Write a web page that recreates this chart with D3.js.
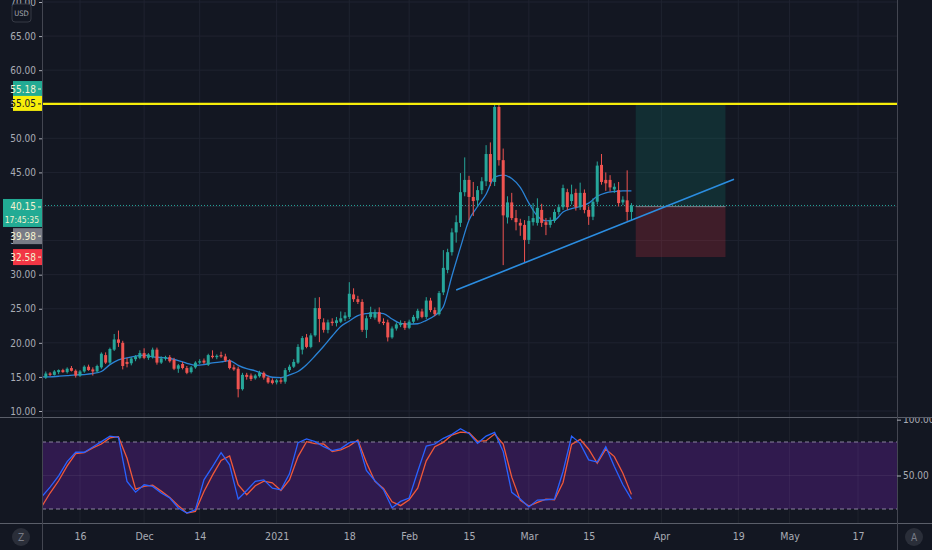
<!DOCTYPE html>
<html>
<head>
  <meta charset="utf-8">
  <title>Daily candles with stochastic</title>
  <script src="https://d3js.org/d3.v7.min.js"></script>
  <style>
    body { margin: 0; background: #131722; }
    text { font-family: "Liberation Sans Narrow", "DejaVu Sans Condensed", "Roboto", sans-serif; }
  </style>
</head>
<body>
<div id="chart"></div>
<script>
// daily bars, first one on 7 Nov 2020
const firstDay = "2020-11-07";

const open = [16.4,14.9,15.5,15.3,15.7,16.0,15.7,16.3,15.9,15.2,
  15.8,16.5,16.1,15.8,16.4,18.2,17.1,19.0,20.5,20.0,
  17.2,17.0,17.6,17.8,18.5,17.8,17.9,19.0,17.1,17.7,
  17.9,17.5,16.2,16.9,16.3,15.7,16.4,17.1,17.4,16.8,
  18.1,17.9,18.2,18.0,17.4,16.4,16.2,13.2,15.3,15.2,
  14.8,15.1,15.6,14.9,14.5,14.2,14.5,14.3,16.0,16.5,
  17.1,19.0,20.8,19.4,21.1,25.1,23.0,21.9,23.1,22.9,
  23.1,23.6,23.8,27.1,26.4,26.0,21.9,23.8,23.7,24.5,
  23.1,23.0,20.8,22.1,22.6,22.9,22.2,23.1,23.6,24.6,
  23.8,26.2,24.8,24.2,27.4,30.7,33.3,36.2,37.6,42.1,
  43.9,41.4,40.9,42.4,43.7,47.7,43.6,54.6,46.8,38.4,
  40.6,38.3,37.6,37.3,35.1,37.7,37.6,39.5,37.7,37.3,
  37.9,39.2,39.9,42.1,40.8,42.0,39.9,42.0,39.5,38.5,
  40.7,46.1,43.9,43.9,42.5,42.4,40.6,40.9,39.2];

const high = [16.6,15.8,15.7,16.0,16.1,16.2,16.4,16.6,16.1,16.0,
  16.7,16.8,16.4,16.8,18.6,18.6,19.3,21.3,21.8,20.3,
  17.8,17.9,18.2,18.9,19.2,18.5,19.3,19.3,18.0,18.1,
  18.2,17.8,16.9,17.2,16.6,16.6,17.3,17.6,17.7,18.4,
  18.9,18.3,18.7,18.4,17.6,16.8,16.5,15.6,15.6,15.5,
  15.4,15.9,15.8,15.1,14.8,14.7,14.9,16.3,16.8,17.6,
  19.8,21.0,21.3,21.4,26.6,26.7,23.6,23.4,23.6,23.8,
  24.6,24.5,28.9,28.0,26.9,26.4,24.0,25.3,24.9,25.2,
  23.6,23.4,22.4,23.0,23.3,23.2,23.4,24.1,25.0,25.0,
  26.7,26.6,25.2,27.6,33.6,33.8,36.8,38.7,44.9,47.2,
  44.5,43.6,43.0,44.3,49.0,49.4,55.1,55.0,48.5,41.5,
  42.0,39.5,38.2,38.0,38.6,40.5,41.2,40.4,38.3,38.4,
  39.6,40.3,43.2,42.6,43.2,42.6,43.5,42.5,40.0,41.2,
  46.6,47.7,45.0,44.6,43.4,43.6,41.5,45.3,40.5];

const low = [14.6,14.7,15.1,15.2,15.4,15.6,15.5,15.8,14.9,15.0,
  15.6,15.9,15.2,15.6,16.2,16.9,16.9,18.8,19.4,16.1,
  16.4,16.7,17.3,17.6,17.6,17.5,17.7,16.8,16.9,17.4,
  17.1,16.0,15.6,16.1,15.4,15.5,16.2,16.9,16.9,16.6,
  17.7,17.6,17.8,17.2,16.1,15.9,12.0,13.0,14.6,14.4,
  14.6,14.9,14.6,14.0,13.9,13.9,14.0,14.0,15.7,16.3,
  16.9,18.3,19.2,19.2,20.9,20.1,21.5,21.4,22.5,22.4,
  22.9,23.2,23.5,26.0,25.7,21.6,20.7,23.5,23.4,22.8,
  22.6,20.2,20.6,21.8,22.3,21.9,22.0,22.8,23.3,23.6,
  23.5,24.5,23.9,24.0,27.0,30.2,32.8,34.7,37.0,41.5,
  38.0,38.6,40.0,41.8,43.0,43.0,43.0,46.0,31.4,37.5,
  38.0,36.5,35.7,31.8,34.5,37.2,37.2,37.0,35.8,36.9,
  37.6,38.8,39.5,39.5,40.3,39.4,39.5,39.0,37.3,38.0,
  40.3,43.2,42.3,42.2,42.0,40.0,40.2,37.9,38.0];

const close = [14.9,15.5,15.3,15.8,16.0,15.7,16.2,15.9,15.2,15.8,
  16.5,16.0,15.8,16.6,18.4,17.1,19.1,20.5,20.0,16.6,
  16.9,17.7,18.0,18.5,17.8,18.3,19.0,17.1,17.7,17.9,
  17.3,16.2,16.7,16.3,15.6,16.4,17.1,17.3,17.1,18.2,
  17.9,18.1,18.0,17.4,16.3,16.1,13.2,15.3,15.0,14.7,
  15.2,15.6,14.9,14.2,14.1,14.5,14.3,16.0,16.5,17.2,
  19.4,20.7,19.4,21.1,25.1,23.5,21.9,23.0,22.9,23.3,
  23.6,24.0,27.2,26.4,26.0,21.9,23.6,24.5,24.5,23.1,
  22.9,20.8,22.1,22.7,22.9,22.2,23.1,23.8,24.7,23.8,
  26.2,24.8,24.2,27.3,31.0,33.3,36.2,37.7,42.1,43.9,
  41.4,40.8,42.4,43.7,47.7,43.6,54.6,46.8,38.7,40.6,
  38.3,37.7,37.2,35.1,37.9,38.3,39.8,37.6,37.3,38.0,
  39.2,39.9,42.7,39.9,41.8,39.9,42.0,39.5,38.5,40.7,
  46.0,43.6,43.4,42.8,42.9,40.5,41.0,39.2,40.15];

// moving average, one reading every second bar
const maValues = [15.0,15.0,15.1,15.2,15.3,15.35,15.5,15.8,16.8,17.5,
  17.8,18.05,18.2,17.95,17.85,17.7,17.4,17.0,16.7,16.8,
  17.05,17.2,17.4,16.7,16.2,15.9,15.4,14.95,14.9,15.3,
  15.8,16.8,18.1,19.5,21.0,22.4,23.2,24.0,24.3,24.4,
  24.3,23.5,22.85,22.75,22.8,23.3,24.0,25.3,29.8,34.0,
  38.0,40.0,41.8,44.3,44.6,44.1,42.8,40.5,38.6,37.9,
  38.0,39.2,39.7,40.0,40.5,41.5,42.0,42.2,42.3,42.3];

// stochastic %K and %D, every second bar
const stochK = [30.7,39.6,49.7,62.5,70.8,70.8,75.5,80.3,85.3,84.2,
  44.7,35.1,41.7,40.2,34.3,29.8,20.9,16.4,19.4,46.1,
  58.0,70.5,59.5,28.9,36.6,44.7,46.1,38.7,37.2,51.5,
  79.4,82.7,80.3,75.8,72.3,74.1,79.4,80.6,54.5,45.3,
  37.2,21.2,26.8,29.8,53.6,76.4,78.2,83.3,86.8,91.9,
  87.7,78.8,85.3,88.6,71.4,34.9,28.9,21.8,28.0,28.3,
  28.9,53.6,85.3,78.8,64.0,62.0,75.8,58.0,41.7,28.9];

const stochD = [21.8,34.3,45.3,58.6,69.6,70.5,74.7,78.2,83.6,84.8,
  65.4,37.8,40.2,41.4,36.0,30.4,23.0,16.4,17.9,35.7,
  50.3,63.4,67.5,41.7,32.8,40.8,45.0,43.5,36.6,46.1,
  66.9,80.3,78.5,78.2,71.4,72.9,76.4,81.8,61.6,44.7,
  38.4,26.5,23.0,28.3,38.7,63.1,75.8,79.7,86.2,88.9,
  88.3,80.6,81.2,87.1,78.2,48.5,27.7,22.7,25.9,28.9,
  28.3,43.8,77.9,82.4,73.5,61.0,73.5,66.9,52.1,33.1];

const priceTicks = [10, 15, 20, 25, 30, 35, 40, 45, 50, 55, 60, 65, 70];
const stochTicks = [100, 50];
const stochBand = [20, 80];
const tickDates = ["2020-11-16","2020-12-01","2020-12-14","2021-01-01","2021-01-18","2021-02-01",
  "2021-02-15","2021-03-01","2021-03-15","2021-04-01","2021-04-19","2021-05-01","2021-05-17"];
const tickLabels = ["16","Dec","14","2021","18","Feb","15","Mar","15","Apr","19","May","17"];

const resistance = 55.05;
const lastPrice = 40.15;
const countdown = "17:45:35";
const posFrom = "2021-03-26", posTo = "2021-04-16";
const target = 55.18, entry = 39.98, stop = 32.58;
const trendDates = ["2021-02-12", "2021-04-18"];
const trendPrices = [27.75, 43.99];

const width = 932, height = 550;
const left = 42, right = 897, mainBottom = 417, stochBottom = 523;
const up = "#26a69a", down = "#ef5350";
const axisColor = "#a9acb5", gridColor = "#1f2330", sepColor = "#434651";
const labelFont = "'Liberation Sans Narrow', 'DejaVu Sans Condensed', sans-serif";

const parse = d3.utcParse("%Y-%m-%d");
const start = parse(firstDay);

const x = d3.scaleUtc().domain([parse("2020-11-16"), parse("2021-05-17")]).range([80, 858]);
const y = d3.scaleLinear().domain([10, 70]).range([411, 2]);
const ys = d3.scaleLinear().domain([20, 80]).range([509, 442]);

const candles = close.map((c, i) => ({ date: d3.utcDay.offset(start, i), o: open[i], h: high[i], l: low[i], c: c }));
const ma = maValues.map((v, i) => ({ date: d3.utcDay.offset(start, i * 2), v: v }));
const kLine = stochK.map((v, i) => ({ date: d3.utcDay.offset(start, i * 2), v: v }));
const dLine = stochD.map((v, i) => ({ date: d3.utcDay.offset(start, i * 2), v: v }));
const ticks = tickDates.map((d, i) => ({ date: parse(d), label: tickLabels[i] }));

const svg = d3.select("#chart").append("svg").attr("width", width).attr("height", height);
svg.append("rect").attr("width", width).attr("height", height).attr("fill", "#131722");

const defs = svg.append("defs");
defs.append("clipPath").attr("id", "mainClip").append("rect")
  .attr("x", left).attr("y", 0).attr("width", right - left).attr("height", mainBottom);
defs.append("clipPath").attr("id", "stochClip").append("rect")
  .attr("x", left).attr("y", mainBottom).attr("width", right - left).attr("height", stochBottom - mainBottom);
defs.append("clipPath").attr("id", "stochAxisClip").append("rect")
  .attr("x", right).attr("y", mainBottom + 1).attr("width", width - right).attr("height", stochBottom - mainBottom - 1);

// ---- main pane
const main = svg.append("g").attr("clip-path", "url(#mainClip)");

main.selectAll(".hgrid").data(priceTicks).join("line")
  .attr("x1", left).attr("x2", right)
  .attr("y1", d => y(d)).attr("y2", d => y(d))
  .attr("stroke", gridColor);
main.selectAll(".vgrid").data(ticks).join("line")
  .attr("x1", d => x(d.date)).attr("x2", d => x(d.date))
  .attr("y1", 0).attr("y2", mainBottom)
  .attr("stroke", gridColor);

// long position box
const bx0 = x(parse(posFrom)), bx1 = x(parse(posTo));
main.append("rect").attr("x", bx0).attr("width", bx1 - bx0)
  .attr("y", y(target)).attr("height", y(entry) - y(target))
  .attr("fill", "#0e8c7a").attr("fill-opacity", 0.2);
main.append("rect").attr("x", bx0).attr("width", bx1 - bx0)
  .attr("y", y(entry)).attr("height", y(stop) - y(entry))
  .attr("fill", "#f23645").attr("fill-opacity", 0.2);
main.append("line").attr("x1", bx0).attr("x2", bx1)
  .attr("y1", y(entry)).attr("y2", y(entry))
  .attr("stroke", "#787b86");

// last price line
main.append("line").attr("x1", left).attr("x2", right)
  .attr("y1", y(lastPrice)).attr("y2", y(lastPrice))
  .attr("stroke", up).attr("stroke-dasharray", "1,2");

// moving average
main.append("path").datum(ma)
  .attr("fill", "none").attr("stroke", "#2a83d6").attr("stroke-width", 1.3)
  .attr("d", d3.line().x(d => x(d.date)).y(d => y(d.v)).curve(d3.curveMonotoneX));

// candles
const bw = (x(d3.utcDay.offset(start, 1)) - x(start)) * 0.7;
main.selectAll(".wick").data(candles).join("line")
  .attr("x1", d => x(d.date)).attr("x2", d => x(d.date))
  .attr("y1", d => y(d.h)).attr("y2", d => y(d.l))
  .attr("stroke", d => d.c >= d.o ? up : down).attr("stroke-width", 1);
main.selectAll(".body").data(candles).join("rect")
  .attr("x", d => x(d.date) - bw / 2).attr("width", bw)
  .attr("y", d => y(Math.max(d.o, d.c)))
  .attr("height", d => Math.max(1, Math.abs(y(d.o) - y(d.c))))
  .attr("fill", d => d.c >= d.o ? up : down);

// trend line
main.append("line")
  .attr("x1", x(parse(trendDates[0]))).attr("y1", y(trendPrices[0]))
  .attr("x2", x(parse(trendDates[1]))).attr("y2", y(trendPrices[1]))
  .attr("stroke", "#2b8de0").attr("stroke-width", 1.6);

// resistance line
main.append("line").attr("x1", left).attr("x2", right)
  .attr("y1", y(resistance)).attr("y2", y(resistance))
  .attr("stroke", "#f7ee0a").attr("stroke-width", 2.4);

// ---- stochastic pane
const stoch = svg.append("g").attr("clip-path", "url(#stochClip)");
stoch.append("rect").attr("x", left).attr("width", right - left)
  .attr("y", ys(stochBand[1])).attr("height", ys(stochBand[0]) - ys(stochBand[1]))
  .attr("fill", "#301a4e");
stoch.selectAll(".vgrid").data(ticks).join("line")
  .attr("x1", d => x(d.date)).attr("x2", d => x(d.date))
  .attr("y1", mainBottom).attr("y2", stochBottom)
  .attr("stroke", "#ffffff").attr("stroke-opacity", 0.05);
stoch.append("line").attr("x1", left).attr("x2", right)
  .attr("y1", ys(50)).attr("y2", ys(50))
  .attr("stroke", "#ffffff").attr("stroke-opacity", 0.06);
stoch.selectAll(".band").data(stochBand).join("line")
  .attr("x1", left).attr("x2", right)
  .attr("y1", d => ys(d)).attr("y2", d => ys(d))
  .attr("stroke", "#8a839e").attr("stroke-dasharray", "4,3");

const stochPath = d3.line().x(d => x(d.date)).y(d => ys(d.v));
stoch.append("path").datum(dLine)
  .attr("fill", "none").attr("stroke", "#f0583a").attr("stroke-width", 1.3).attr("d", stochPath);
stoch.append("path").datum(kLine)
  .attr("fill", "none").attr("stroke", "#2962ff").attr("stroke-width", 1.3).attr("d", stochPath);

// ---- separators
svg.append("line").attr("x1", 0).attr("x2", width).attr("y1", mainBottom + 0.5).attr("y2", mainBottom + 0.5).attr("stroke", "#5a5e69");
svg.append("line").attr("x1", 0).attr("x2", width).attr("y1", stochBottom + 0.5).attr("y2", stochBottom + 0.5).attr("stroke", "#5a5e69");
svg.append("line").attr("x1", left + 0.5).attr("x2", left + 0.5).attr("y1", 0).attr("y2", height).attr("stroke", sepColor);
svg.append("line").attr("x1", right + 0.5).attr("x2", right + 0.5).attr("y1", 0).attr("y2", height).attr("stroke", sepColor);

// ---- price axis on the left
const priceAxis = svg.append("g").attr("transform", `translate(${left},0)`)
  .call(d3.axisLeft(y).tickValues(priceTicks).tickFormat(d3.format(".2f")).tickSize(3).tickPadding(3));
priceAxis.select(".domain").remove();
priceAxis.selectAll("line").attr("stroke", axisColor);
priceAxis.selectAll("text").attr("fill", axisColor).attr("font-size", 10).style("font-family", labelFont);

// currency badge
svg.append("rect").attr("x", 12).attr("y", 4).attr("width", 19).attr("height", 18).attr("rx", 3)
  .attr("fill", "#131722").attr("stroke", "#363a45");
svg.append("text").attr("x", 21.5).attr("y", 13).attr("text-anchor", "middle").attr("dominant-baseline", "central")
  .attr("font-size", 7.5).attr("fill", axisColor).text("USD");

// price labels on the axis
function priceLabel(value, text, bg, fg, x0, h, shift) {
  const g = svg.append("g").attr("transform", `translate(0,${shift})`);
  g.append("rect").attr("x", x0).attr("y", y(value) - 8).attr("width", left - x0).attr("height", h).attr("fill", bg);
  g.append("text").attr("x", 36).attr("y", y(value)).attr("text-anchor", "end")
    .attr("dominant-baseline", "central").attr("font-size", 10).attr("fill", fg).text(text);
  g.append("line").attr("x1", 38).attr("x2", 41).attr("y1", y(value)).attr("y2", y(value)).attr("stroke", fg);
  return g;
}
priceLabel(target, d3.format(".2f")(target), "#22ab94", "#f4f1d0", 13, 16, -14);
priceLabel(resistance, d3.format(".2f")(resistance), "#f7ee0a", "#131722", 13, 15, 0);
const last = priceLabel(lastPrice, d3.format(".2f")(lastPrice), "#22ab94", "#f4f1d0", 3, 28, 1.5);
last.append("text").attr("x", 39).attr("y", y(lastPrice) + 13.5).attr("text-anchor", "end")
  .attr("dominant-baseline", "central").attr("font-size", 8.5).attr("fill", "#f4f1d0").text(countdown);
priceLabel(entry, d3.format(".2f")(entry), "#787b86", "#f4f1d0", 13, 16, 29.5);
priceLabel(stop, d3.format(".2f")(stop), "#f23645", "#f4f1d0", 13, 16, 0);

// ---- stochastic axis on the right
const stochAxis = svg.append("g").attr("clip-path", "url(#stochAxisClip)").append("g")
  .attr("transform", `translate(${right},0)`)
  .call(d3.axisRight(ys).tickValues(stochTicks).tickFormat(d3.format(".2f")).tickSize(4).tickPadding(2));
stochAxis.select(".domain").remove();
stochAxis.selectAll("line").attr("stroke", axisColor);
stochAxis.selectAll("text").attr("fill", axisColor).attr("font-size", 10).style("font-family", labelFont);

// ---- time axis
const timeAxis = svg.append("g").attr("transform", `translate(0,${stochBottom})`)
  .call(d3.axisBottom(x).tickValues(ticks.map(d => d.date))
    .tickFormat((d, i) => ticks[i].label).tickSize(0).tickPadding(10));
timeAxis.select(".domain").remove();
timeAxis.selectAll("text").attr("fill", axisColor).attr("font-size", 10.5).style("font-family", labelFont);

// corner buttons
[[21, "Z"], [914, "A"]].forEach(([cx, t]) => {
  svg.append("circle").attr("cx", cx).attr("cy", 537).attr("r", 9).attr("fill", "#2a2e39");
  svg.append("text").attr("x", cx).attr("y", 537).attr("text-anchor", "middle").attr("dominant-baseline", "central")
    .attr("font-size", 10).attr("fill", "#787b86").text(t);
});
</script>
</body>
</html>
